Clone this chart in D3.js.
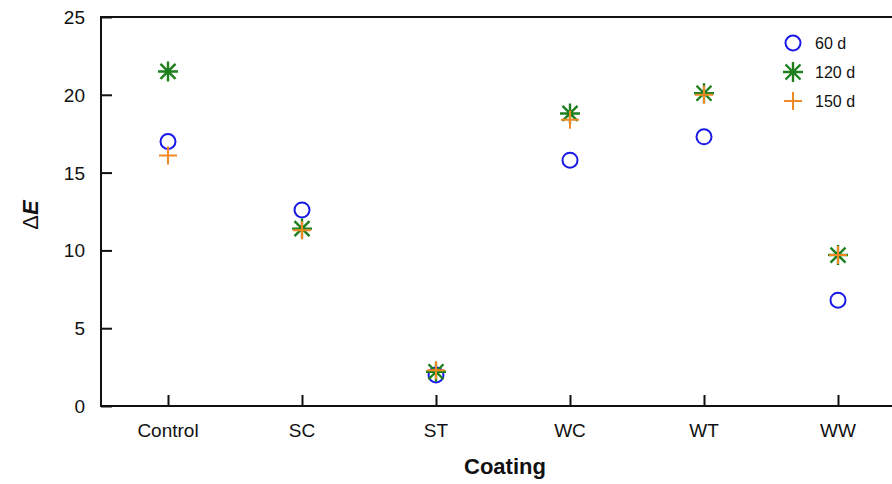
<!DOCTYPE html>
<html>
<head>
<meta charset="utf-8">
<script src="https://cdn.jsdelivr.net/npm/d3@7"></script>
<style>
body { margin: 0; background: #fff; }
text { font-family: "Liberation Sans", Arial, sans-serif; }
</style>
</head>
<body>
<div id="chart"></div>
<script>
var coatings = ['Control', 'SC', 'ST', 'WC', 'WT', 'WW'];
var d60 = [17.0, 12.6, 2.0, 15.8, 17.3, 6.8];
var d120 = [21.5, 11.4, 2.2, 18.8, 20.1, 9.7];
var d150 = [16.1, 11.3, 2.3, 18.4, 20.0, 9.7];
var seriesNames = ['60 d', '120 d', '150 d'];
var yTicks = [0, 5, 10, 15, 20, 25];

var W = 892, H = 484;
var plotL = 101, plotT = 17, plotB = 406, plotR = 905;

var svg = d3.select('#chart').append('svg')
  .attr('width', W).attr('height', H);

var x = d3.scaleLinear().domain([-0.5, 5.5]).range([plotL, plotR]);
var y = d3.scaleLinear().domain([0, 25]).range([plotB, plotT]);

// frame
svg.append('rect')
  .attr('x', plotL).attr('y', plotT)
  .attr('width', plotR - plotL).attr('height', plotB - plotT)
  .attr('fill', 'none').attr('stroke', '#111').attr('stroke-width', 2);

// y axis
var yAxis = svg.append('g')
  .attr('transform', 'translate(' + plotL + ',0)')
  .call(d3.axisRight(y).tickValues(yTicks).tickSize(11).tickFormat(''));
yAxis.select('.domain').remove();
yAxis.selectAll('line').attr('stroke', '#111').attr('stroke-width', 2);
svg.selectAll('.ylab').data(yTicks).enter().append('text')
  .attr('x', plotL - 16).attr('y', function(d) { return y(d) + 7; })
  .attr('text-anchor', 'end')
  .attr('font-size', '19px').attr('fill', '#111')
  .text(function(d) { return d; });

// x axis
var xAxis = svg.append('g')
  .attr('transform', 'translate(0,' + plotB + ')')
  .call(d3.axisTop(x).tickValues(d3.range(coatings.length)).tickSize(11).tickFormat(''));
xAxis.select('.domain').remove();
xAxis.selectAll('line').attr('stroke', '#111').attr('stroke-width', 2);
svg.selectAll('.xlab').data(coatings).enter().append('text')
  .attr('x', function(d, i) { return x(i); }).attr('y', 437)
  .attr('text-anchor', 'middle')
  .attr('font-size', '19px').attr('fill', '#111')
  .text(function(d) { return d; });

// axis titles
svg.append('text')
  .attr('x', 505).attr('y', 474)
  .attr('text-anchor', 'middle')
  .attr('font-size', '22px').attr('font-weight', 'bold').attr('fill', '#111')
  .text('Coating');

var yt = svg.append('text')
  .attr('transform', 'translate(38,215) rotate(-90)')
  .attr('text-anchor', 'middle')
  .attr('font-size', '22px').attr('fill', '#111');
yt.append('tspan').text('Δ');
yt.append('tspan').attr('font-weight', 'bold').attr('font-style', 'italic').text('E');

// marker drawers
function circleMark(g) {
  g.append('circle').attr('r', 7.5)
    .attr('fill', 'none').attr('stroke', '#1a1ae6').attr('stroke-width', 2);
}
function starMark(g) {
  var s = 10;
  var c = '#1f7f1f';
  g.append('path')
    .attr('d', 'M' + -s + ',0H' + s + 'M0,' + -s + 'V' + s +
      'M' + -s * 0.75 + ',' + -s * 0.75 + 'L' + s * 0.75 + ',' + s * 0.75 +
      'M' + -s * 0.75 + ',' + s * 0.75 + 'L' + s * 0.75 + ',' + -s * 0.75)
    .attr('stroke', c).attr('stroke-width', 2.4).attr('fill', 'none');
}
function plusMark(g) {
  var s = 9;
  g.append('path')
    .attr('d', 'M' + -s + ',0H' + s + 'M0,' + -s + 'V' + s)
    .attr('stroke', '#f08a24').attr('stroke-width', 2).attr('fill', 'none');
}

var series = [
  { name: seriesNames[0], vals: d60, draw: circleMark },
  { name: seriesNames[1], vals: d120, draw: starMark },
  { name: seriesNames[2], vals: d150, draw: plusMark }
];

series.forEach(function(s) {
  svg.append('g').selectAll('g').data(s.vals).enter().append('g')
    .attr('transform', function(d, i) { return 'translate(' + x(i) + ',' + y(d) + ')'; })
    .each(function() { s.draw(d3.select(this)); });
});

// legend
var leg = svg.append('g').attr('transform', 'translate(793,43)');
series.forEach(function(s, i) {
  var g = leg.append('g').attr('transform', 'translate(0,' + i * 29 + ')');
  s.draw(g);
  g.append('text').attr('x', 22).attr('y', 6)
    .attr('font-size', '16px').attr('fill', '#111')
    .text(s.name);
});
</script>
</body>
</html>
